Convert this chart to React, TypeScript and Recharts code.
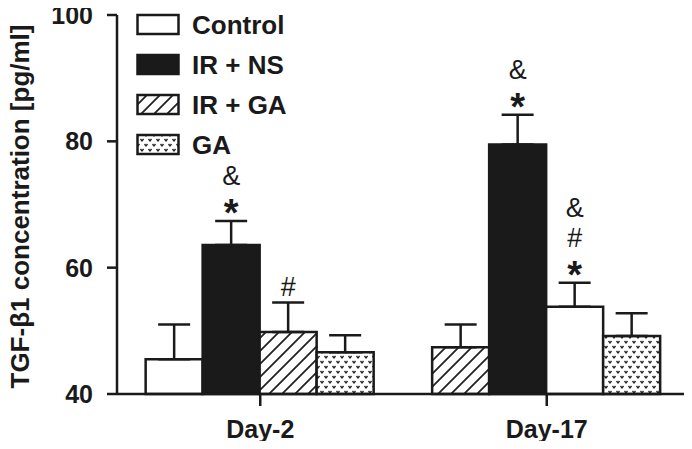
import {
  BarChart,
  Bar,
  XAxis,
  YAxis,
  Cell,
  ErrorBar,
  LabelList,
} from 'recharts';

// categories and bar order inside each day group (as drawn in the figure)
const days = ['Day-2', 'Day-17'];
const groupOrder = [
  ['Control', 'IR + NS', 'IR + GA', 'GA'],
  ['IR + GA', 'IR + NS', 'Control', 'GA'],
];
// mean values per slot (pg/ml)
const day2Means = [45.5, 63.6, 49.8, 46.6];
const day17Means = [47.4, 79.5, 53.8, 49.2];
// upper SD per slot
const day2Errs = [5.5, 3.8, 4.7, 2.7];
const day17Errs = [3.6, 4.7, 3.8, 3.6];
// significance marks, top line first
const day2Marks = ['', '&\n*', '#', ''];
const day17Marks = ['', '&\n*', '&\n#\n*', ''];

const legendItems = ['Control', 'IR + NS', 'IR + GA', 'GA'];
const yTicks = [40, 60, 80, 100];

const fills: Record<string, string> = {
  'Control': '#ffffff',
  'IR + NS': '#1a1a1a',
  'IR + GA': 'url(#hatch)',
  'GA': 'url(#dots)',
};

const meansByDay = [day2Means, day17Means];
const errsByDay = [day2Errs, day17Errs];
const marksByDay = [day2Marks, day17Marks];

const data = days.map((day, d) => {
  const row: any = { day };
  for (let i = 0; i < 4; i++) {
    row[`s${i}`] = meansByDay[d][i];
    row[`e${i}`] = [0, errsByDay[d][i]];
    row[`m${i}`] = marksByDay[d][i];
  }
  return row;
});

const FONT = '"Liberation Sans", Arial, sans-serif';

const Patterns = () => (
  <svg width={0} height={0} style={{ position: 'absolute' }}>
    <defs>
      <pattern id="hatch" patternUnits="userSpaceOnUse" width={13} height={13}>
        <rect width={13} height={13} fill="#fff" />
        <path d="M-2,2 l4,-4 M0,13 l13,-13 M11,15 l4,-4" stroke="#222" strokeWidth={1.8} />
      </pattern>
      <pattern id="dots" patternUnits="userSpaceOnUse" width={8} height={10}>
        <rect width={8} height={10} fill="#fff" />
        <path d="M0.5,1 l1.5,2 l1.5,-2 M4.5,6 l1.5,2 l1.5,-2" stroke="#222" strokeWidth={1.3} fill="none" />
      </pattern>
    </defs>
  </svg>
);

const makeMarkLabel = (slot: number) => (props: any) => {
  const { x, y, width, height, value, index } = props;
  if (!value) return null;
  const mean = meansByDay[index][slot];
  const err = errsByDay[index][slot];
  const pxPerUnit = height / (mean - 40);
  const top = y - err * pxPerUnit;
  const lines = String(value).split('\n').reverse();
  const cx = x + width / 2;
  return (
    <g>
      {lines.map((s, k) => {
        const center = top - 16 - k * 30;
        const isStar = s === '*';
        return (
          <text
            key={k}
            x={cx}
            y={isStar ? center + 21 : center + 10}
            textAnchor="middle"
            fontFamily={FONT}
            fontWeight={isStar ? 'bold' : 'normal'}
            fontSize={isStar ? 38 : 27}
            fill="#1a1a1a"
          >
            {s}
          </text>
        );
      })}
    </g>
  );
};

const LegendBox = () => (
  <div style={{ position: 'absolute', left: 136, top: 5, fontFamily: FONT }}>
    {legendItems.map((name) => (
      <div key={name} style={{ display: 'flex', alignItems: 'center', height: 40 }}>
        <svg width={46} height={24}>
          <rect x={1.5} y={2} width={41} height={19} fill={fills[name]} stroke="#1a1a1a" strokeWidth={2.5} />
        </svg>
        <span style={{ marginLeft: 10, fontSize: 26, fontWeight: 'bold', color: '#1a1a1a' }}>{name}</span>
      </div>
    ))}
  </div>
);

const YLabel = (props: any) => {
  const { viewBox } = props;
  const cy = viewBox.y + viewBox.height / 2 + 2;
  return (
    <text
      x={20}
      y={cy}
      transform={`rotate(-90, 20, ${cy})`}
      textAnchor="middle"
      dominantBaseline="central"
      fontFamily={FONT}
      fontWeight="bold"
      fontSize={26}
      fill="#1a1a1a"
    >
      TGF-β1 concentration [pg/ml]
    </text>
  );
};

export default function App() {
  return (
    <div style={{ width: 692, height: 449, position: 'relative', margin: -8, background: '#fff' }}>
      <Patterns />
      <BarChart
        width={692}
        height={449}
        data={data}
        margin={{ top: 15, right: 2, left: 0, bottom: 0 }}
        barCategoryGap="10%"
        barGap={0}
      >
        <XAxis
          dataKey="day"
          height={55}
          axisLine={{ stroke: '#1a1a1a', strokeWidth: 2.5 }}
          tickLine={{ stroke: '#1a1a1a', strokeWidth: 2.5 }}
          tickSize={12}
          tick={{ fill: '#1a1a1a', fontSize: 25, fontWeight: 'bold', fontFamily: FONT, dy: 12 }}
        />
        <YAxis
          type="number"
          domain={[40, 100]}
          ticks={yTicks}
          width={117}
          axisLine={{ stroke: '#1a1a1a', strokeWidth: 2.5 }}
          tickLine={{ stroke: '#1a1a1a', strokeWidth: 2.5 }}
          tickSize={10}
          tick={{ fill: '#1a1a1a', fontSize: 25, fontWeight: 'bold', fontFamily: FONT, dx: -12 }}
          label={<YLabel />}
        />
        {[0, 1, 2, 3].map((slot) => (
          <Bar key={slot} dataKey={`s${slot}`} isAnimationActive={false} legendType="none">
            {data.map((_, d) => (
              <Cell
                key={d}
                fill={fills[groupOrder[d][slot]]}
                stroke="#1a1a1a"
                strokeWidth={2.5}
              />
            ))}
            <ErrorBar dataKey={`e${slot}`} width={16} stroke="#1a1a1a" strokeWidth={2.5} direction="y" />
            <LabelList dataKey={`m${slot}`} content={makeMarkLabel(slot)} />
          </Bar>
        ))}
      </BarChart>
      <LegendBox />
    </div>
  );
}
